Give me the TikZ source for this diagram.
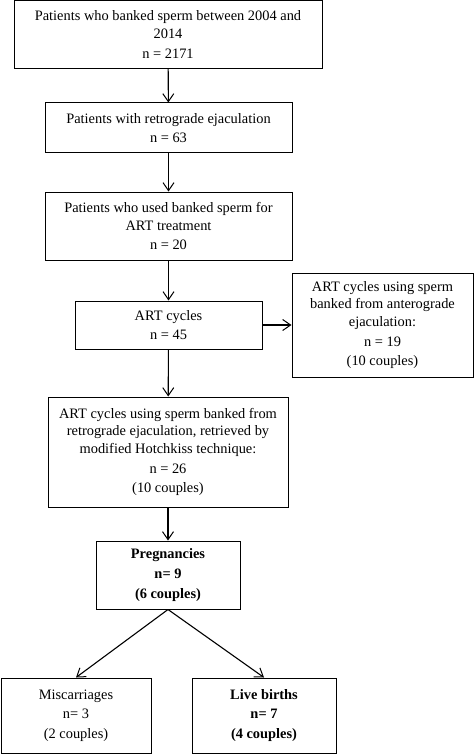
\documentclass[tikz,border=0pt]{standalone}
\usepackage{fontspec}
\setmainfont{Liberation Serif}
\usetikzlibrary{arrows.meta,positioning}

\begin{document}
\begin{tikzpicture}[x=1pt, y=-1pt,
    stagebox/.style={rectangle, draw, line width=1pt, align=center, inner sep=0pt,
      font=\fontsize{14.4}{17.6}\selectfont},
    link/.style={-{Straight Barb[length=8pt, width=11pt, line width=1pt]}, line width=1.1pt}]
    \useasboundingbox (0,0) rectangle (474,754);

    \node[stagebox, minimum width=308, minimum height=68] (Banked) at (168,34.5)
      {Patients who banked sperm between 2004 and\\ 2014\\[2pt] n = 2171};
    \node[stagebox, minimum width=247, minimum height=50] (Retro) at (168.5,128)
      {Patients with retrograde ejaculation\\[2pt] n = 63};
    \node[stagebox, minimum width=247, minimum height=68] (Used) at (168.5,226)
      {Patients who used banked sperm for\\ ART treatment\\[2pt] n = 20};
    \node[stagebox, minimum width=187, minimum height=48] (Cycles) at (168.5,325)
      {ART cycles\\[2pt] n = 45};
    \node[stagebox, minimum width=181, minimum height=104] (Antero) at (382.5,325)
      {ART cycles using sperm\\ banked from anterograde\\ ejaculation:\\[2pt] n = 19\\[2pt] (10 couples)};
    \node[stagebox, minimum width=240, minimum height=110] (Hotch) at (168,452)
      {ART cycles using sperm banked from\\ retrograde ejaculation, retrieved by\\ modified Hotchkiss technique:\\[2pt] n = 26\\[2pt] (10 couples)};
    \node[stagebox, minimum width=144, minimum height=68, font=\fontsize{14.4}{17.6}\selectfont\bfseries] (Preg) at (168,575)
      {Pregnancies\\[2pt] n= 9\\[2pt] (6 couples)};
    \node[stagebox, minimum width=150, minimum height=75] (Misc) at (76,715.5)
      {Miscarriages\\[2pt] n= 3\\[2pt] (2 couples)};
    \node[stagebox, minimum width=144, minimum height=75, font=\fontsize{14.4}{17.6}\selectfont\bfseries] (Births) at (264,715.5)
      {Live births\\[2pt] n= 7\\[2pt] (4 couples)};

    \draw[link] (Banked) to (Retro);
    \draw[link] (Retro) to (Used);
    \draw[link] (Used) to (Cycles);
    \draw[link] (Cycles) to (Antero);
    \draw[link] (Cycles) to (Hotch);
    \draw[link] (Hotch) to (Preg);
    \draw[link] (Preg.south) to (Misc.north);
    \draw[link] (Preg.south) to (Births.north);
  \end{tikzpicture}
\end{document}
